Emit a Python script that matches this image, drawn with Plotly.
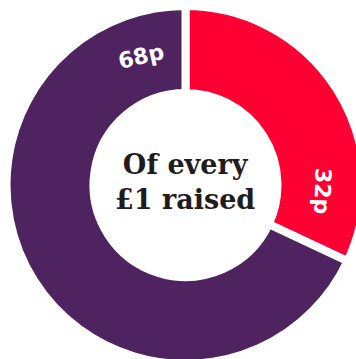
import plotly.graph_objects as go

labels = ["Other", "Fundraising"]
values = [32, 68]
slice_text = ["32p", "68p"]
colors = ["#ff0033", "#4f2360"]
center_text = "Of every<br>£1 raised"

W, H = 371, 370
cx, cy, R = 185.5, 185, 179

fig = go.Figure(go.Pie(
    labels=labels, values=values, sort=False, direction="clockwise", rotation=0,
    hole=0.514,
    marker=dict(colors=colors, line=dict(color="white", width=8)),
    textinfo="none", hoverinfo="skip", showlegend=False,
    domain=dict(x=[(cx - R) / W, (cx + R) / W], y=[(H - cy - R) / H, (H - cy + R) / H]),
))

def ann(text, px, py, angle, size, font, color, weight="bold"):
    return dict(text=text, x=px / W, y=1 - py / H, xref="paper", yref="paper",
                showarrow=False, textangle=angle, xanchor="center", yanchor="middle",
                font=dict(family=font, size=size, color=color, weight=weight))

fig.update_layout(
    width=W, height=H, margin=dict(l=0, r=0, t=0, b=0),
    paper_bgcolor="white", plot_bgcolor="white",
    annotations=[
        ann(center_text, 185, 182, 0, 27, "DejaVu Serif", "#1f1c1d"),
        ann(slice_text[1], 141, 57, -13, 22, "DejaVu Sans", "white"),
        ann(slice_text[0], 322, 191, 92, 22, "DejaVu Sans", "white"),
    ],
)

fig.write_html("out.html", config={"displayModeBar": False},
               post_script="document.body.style.overflow='hidden';document.documentElement.style.overflow='hidden';document.body.style.margin='0';")
